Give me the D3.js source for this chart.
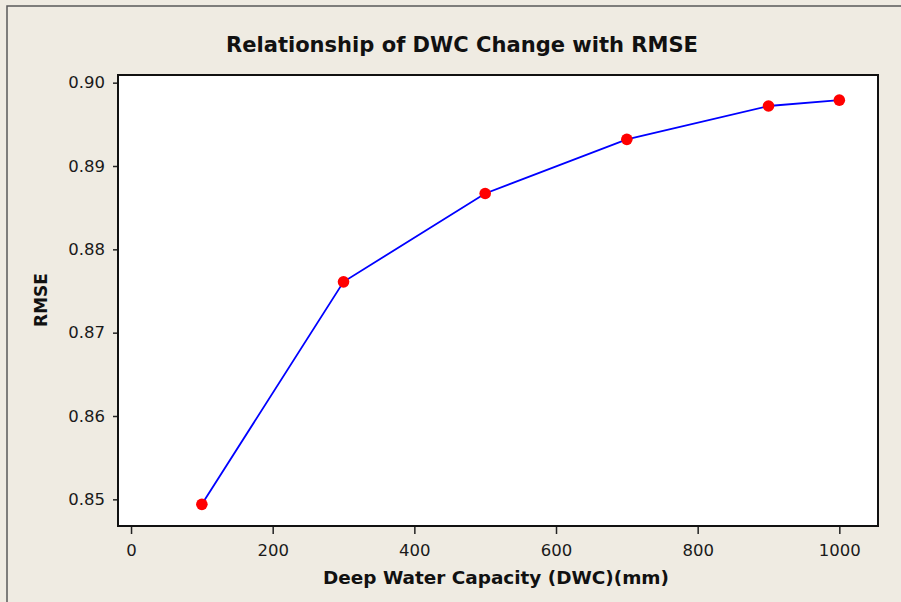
<!DOCTYPE html>
<html>
<head>
<meta charset="utf-8">
<script src="https://cdn.jsdelivr.net/npm/d3@7"></script>
<style>
  html, body { margin: 0; padding: 0; background: #efebe2; }
  svg { display: block; }
</style>
</head>
<body>
<svg id="chart" width="901" height="602"></svg>
<script>
// data
const dwc = [100, 300, 500, 700, 900, 1000];
const rmse = [0.8494, 0.8761, 0.8867, 0.8932, 0.8972, 0.8979];
const xTicks = [0, 200, 400, 600, 800, 1000];
const yTicks = [0.85, 0.86, 0.87, 0.88, 0.89, 0.90];

const svg = d3.select("#chart"),
    width = +svg.attr("width"),
    height = +svg.attr("height");

const plot = { left: 118, top: 75, right: 878, bottom: 526 };

// outer frame (only top/left edge shows inside the window)
svg.append("rect")
    .attr("x", 7).attr("y", 6)
    .attr("width", width + 20).attr("height", height + 20)
    .style("fill", "#efebe2")
    .style("stroke", "#5a5a5a")
    .style("stroke-width", 1.5);

const x = d3.scaleLinear().domain([-18.4, 1054.6]).range([plot.left, plot.right]);
const y = d3.scaleLinear().domain([0.8468, 0.90092]).range([plot.bottom, plot.top]);

svg.append("rect")
    .attr("x", plot.left).attr("y", plot.top)
    .attr("width", plot.right - plot.left).attr("height", plot.bottom - plot.top)
    .style("fill", "white");

const font = "Tahoma, 'DejaVu Sans', sans-serif";

// axes
const xAxis = svg.append("g")
    .attr("transform", `translate(0,${plot.bottom})`)
    .call(d3.axisBottom(x).tickValues(xTicks).tickSize(8).tickPadding(10).tickFormat(d3.format("d")));
const yAxis = svg.append("g")
    .attr("transform", `translate(${plot.left},0)`)
    .call(d3.axisLeft(y).tickValues(yTicks).tickSize(5).tickPadding(8).tickFormat(d3.format(".2f")));

[xAxis, yAxis].forEach(a => {
    a.select(".domain").remove();
    a.selectAll(".tick line").style("stroke", "#222").style("stroke-width", 1.5);
    a.selectAll(".tick text")
        .style("font-family", font)
        .style("font-size", "16.5px")
        .style("fill", "#1a1a1a");
});

// line + points
const line = d3.line().x((d, i) => x(dwc[i])).y(d => y(d));
svg.append("path")
    .datum(rmse)
    .attr("d", line)
    .style("fill", "none")
    .style("stroke", "#0000ff")
    .style("stroke-width", 1.8);

svg.append("g")
    .selectAll("circle")
    .data(rmse)
    .enter().append("circle")
    .attr("cx", (d, i) => x(dwc[i]))
    .attr("cy", d => y(d))
    .attr("r", 5.8)
    .style("fill", "#ff0000");

// plot border on top
svg.append("rect")
    .attr("x", plot.left).attr("y", plot.top)
    .attr("width", plot.right - plot.left).attr("height", plot.bottom - plot.top)
    .style("fill", "none")
    .style("stroke", "#111")
    .style("stroke-width", 2);

// titles
svg.append("text")
    .attr("x", 462).attr("y", 52)
    .attr("text-anchor", "middle")
    .attr("textLength", 472)
    .attr("lengthAdjust", "spacingAndGlyphs")
    .style("font-family", font)
    .style("font-weight", "bold")
    .style("font-size", "21px")
    .style("fill", "#111")
    .text("Relationship of DWC Change with RMSE");

svg.append("text")
    .attr("x", 496).attr("y", 584)
    .attr("text-anchor", "middle")
    .attr("textLength", 346)
    .attr("lengthAdjust", "spacingAndGlyphs")
    .style("font-family", font)
    .style("font-weight", "bold")
    .style("font-size", "17px")
    .style("fill", "#111")
    .text("Deep Water Capacity (DWC)(mm)");

svg.append("text")
    .attr("transform", `translate(47,300) rotate(-90)`)
    .attr("text-anchor", "middle")
    .style("font-family", font)
    .style("font-weight", "bold")
    .style("font-size", "17px")
    .style("fill", "#111")
    .text("RMSE");
</script>
</body>
</html>
